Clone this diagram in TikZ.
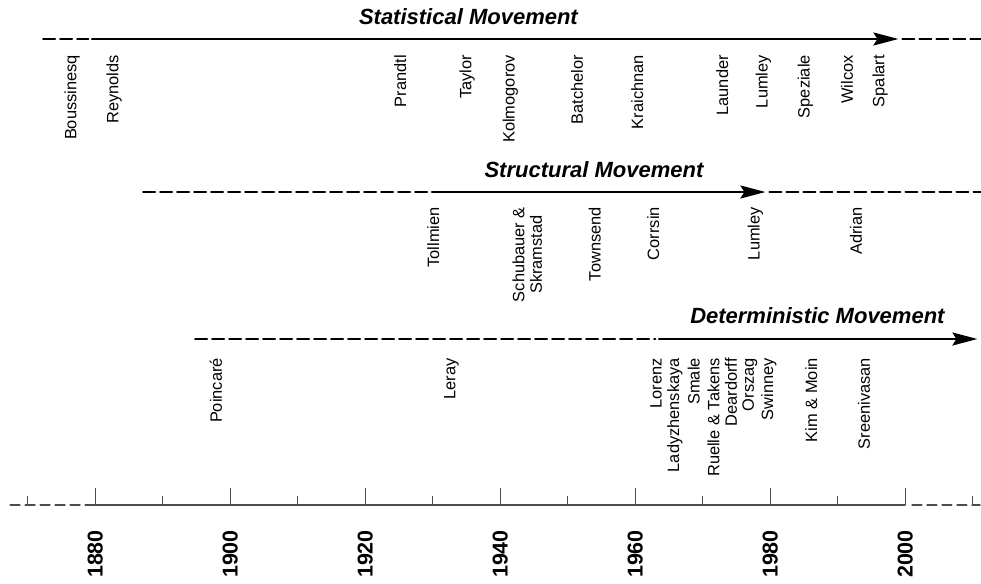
\documentclass[tikz,border=0pt]{standalone}
\usepackage{fontspec}
\setmainfont{Liberation Sans}
\usepackage{tkz-euclide}
\usetikzlibrary{arrows.meta}
\definecolor{axisgray}{rgb}{0.3,0.3,0.3}

\tikzset{
  solidline/.style={line width=2pt},
  dashline/.style={line width=2pt,dash pattern=on 12pt off 5pt},
  headline/.style={line width=2pt,-{Stealth[length=25pt,width=13pt,inset=4pt]}},
  axisline/.style={axisgray,line width=1.1pt},
  axisdash/.style={axisgray,line width=1.1pt,dash pattern=on 10pt off 5pt},
  pioneer/.style={rotate=90,anchor=east,inner sep=0pt,
    font=\fontsize{16.4}{17.5}\selectfont},
  movetitle/.style={anchor=base,inner sep=0pt,
    font=\fontsize{22}{24}\selectfont\bfseries\itshape},
  yearlabel/.style={rotate=90,inner sep=0pt,
    font=\fontsize{21.5}{24}\selectfont\bfseries},
}

\begin{document}
\begin{tikzpicture}[x=6.75pt,y=-1pt]

  \useasboundingbox (1865.93,0) rectangle (2011.26,583);

  % statistical movement
  \tkzDefPoint(1872.3,39){s0}
  \tkzDefPoint(1879.0,39){s1}
  \tkzDefPoint(1879.5,39){s2}
  \tkzDefPoint(1999.0,39){s3}
  \tkzDefPoint(1999.6,39){s4}
  \tkzDefPoint(2011.3,39){s5}

  \tkzDrawSegments[dashline](s0,s1 s4,s5)
  \tkzDrawSegment[headline](s2,s3)

  \node[movetitle] (stat) at (1935.3,25) {Statistical Movement};

  \node[pioneer] (boussinesq) at (1876.6,55) {Boussinesq};
  \node[pioneer] (reynolds)   at (1882.8,55) {Reynolds};
  \node[pioneer] (prandtl)    at (1925.2,55) {Prandtl};
  \node[pioneer] (taylor)     at (1935.1,55) {Taylor};
  \node[pioneer] (kolmogorov) at (1941.5,55) {Kolmogorov};
  \node[pioneer] (batchelor)  at (1951.4,55) {Batchelor};
  \node[pioneer] (kraichnan)  at (1960.3,55) {Kraichnan};
  \node[pioneer] (launder)    at (1972.9,55) {Launder};
  \node[pioneer] (lumleystat) at (1979.0,55) {Lumley};
  \node[pioneer] (speziale)   at (1985.2,55) {Speziale};
  \node[pioneer] (wilcox)     at (1991.4,55) {Wilcox};
  \node[pioneer] (spalart)    at (1996.3,55) {Spalart};

  % structural movement
  \tkzDefPoint(1887.1,192){t0}
  \tkzDefPoint(1929.4,192){t1}
  \tkzDefPoint(1929.9,192){t2}
  \tkzDefPoint(1979.3,192){t3}
  \tkzDefPoint(1979.9,192){t4}
  \tkzDefPoint(2011.3,192){t5}

  \tkzDrawSegments[dashline](t0,t1 t4,t5)
  \tkzDrawSegment[headline](t2,t3)

  \node[movetitle] (struct) at (1953.9,177) {Structural Movement};

  \node[pioneer] (tollmien)   at (1930.1,207) {Tollmien};
  \node[pioneer,align=center] (schubauer) at (1944.0,207) {Schubauer \&\\Skramstad};
  \node[pioneer] (townsend)   at (1954.0,207) {Townsend};
  \node[pioneer] (corrsin)    at (1962.7,207) {Corrsin};
  \node[pioneer] (lumleystruct) at (1977.8,207) {Lumley};
  \node[pioneer] (adrian)     at (1992.7,207) {Adrian};

  % deterministic movement
  \tkzDefPoint(1894.8,339){d0}
  \tkzDefPoint(1963.0,339){d1}
  \tkzDefPoint(1963.5,339){d2}
  \tkzDefPoint(2010.7,339){d3}

  \tkzDrawSegments[dashline](d0,d1)
  \tkzDrawSegment[headline](d2,d3)

  \node[movetitle] (determ) at (1987.0,323) {Deterministic Movement};

  \node[pioneer] (poincare)  at (1897.9,358) {Poincaré};
  \node[pioneer] (leray)     at (1932.8,358) {Leray};
  \node[pioneer] (lorenz)    at (1963.1,358) {Lorenz};
  \node[pioneer] (ladyzh)    at (1965.9,358) {Ladyzhenskaya};
  \node[pioneer] (smale)     at (1968.7,358) {Smale};
  \node[pioneer] (ruelle)    at (1971.6,358) {Ruelle \& Takens};
  \node[pioneer] (deardorff) at (1974.2,358) {Deardorff};
  \node[pioneer] (orszag)    at (1977.0,358) {Orszag};
  \node[pioneer] (swinney)   at (1979.8,358) {Swinney};
  \node[pioneer] (kimmoin)   at (1986.1,358) {Kim \& Moin};
  \node[pioneer] (sreeni)    at (1993.9,358) {Sreenivasan};

  % time axis
  \tkzDefPoint(1867.4,505){a0}
  \tkzDefPoint(1880.0,505){a1}
  \tkzDefPoint(2000.0,505){a2}
  \tkzDefPoint(2001.0,505){a3}
  \tkzDefPoint(2011.1,505){a4}

  \tkzDrawSegments[axisdash](a0,a1 a3,a4)
  \tkzDrawSegment[axisline](a1,a2)

  \foreach \yr in {1870,1890,...,2010}{
    \coordinate (tick\yr) at (\yr,505);
    \draw[axisline] (tick\yr) -- ++(0,-9);
  }
  \foreach \yr in {1880,1900,...,2000}{
    \coordinate (tick\yr) at (\yr,505);
    \draw[axisline] (tick\yr) -- ++(0,-17);
    \node[yearlabel] (y\yr) at (\yr,554) {\yr};
  }

\end{tikzpicture}
\end{document}
